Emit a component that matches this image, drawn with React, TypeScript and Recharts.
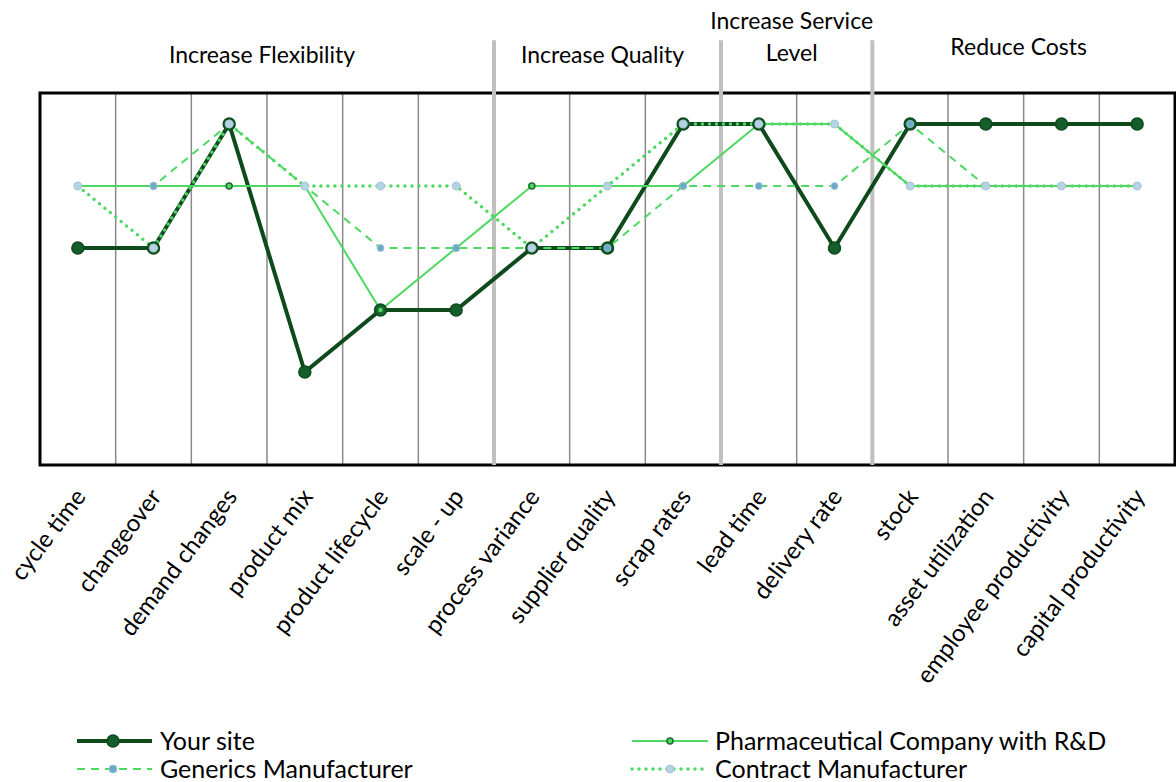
import { LineChart, Line, XAxis, YAxis, CartesianGrid, ReferenceLine, ReferenceArea } from 'recharts'

const categories = [
  'cycle time',
  'changeover',
  'demand changes',
  'product mix',
  'product lifecycle',
  'scale - up',
  'process variance',
  'supplier quality',
  'scrap rates',
  'lead time',
  'delivery rate',
  'stock',
  'asset utilization',
  'employee productivity',
  'capital productivity',
]

const yourSite = [3, 3, 5, 1, 2, 2, 3, 3, 5, 5, 3, 5, 5, 5, 5]
const pharma = [4, 4, 4, 4, 2, 3, 4, 4, 4, 5, 5, 4, 4, 4, 4]
const generics = [4, 4, 5, 4, 3, 3, 3, 3, 4, 4, 4, 5, 4, 4, 4]
const contract = [4, 3, 5, 4, 4, 4, 3, 4, 5, 5, 5, 4, 4, 4, 4]

// group headers: first and last category index of each group
const groupNames = [['Increase Flexibility'], ['Increase Quality'], ['Increase Service', 'Level'], ['Reduce Costs']]
const groupStart = [0, 6, 9, 11]
const groupEnd = [5, 8, 10, 14]

const data = categories.map((name, i) => ({
  idx: i,
  name,
  yourSite: yourSite[i],
  pharma: pharma[i],
  generics: generics[i],
  contract: contract[i],
}))

const W = 1176
const H = 782
const M = { top: 93, left: 40, right: 1, bottom: 67 }
const plotW = W - M.left - M.right
const step = plotW / categories.length
const FONT = 'Lato, "Open Sans", sans-serif'

const DARK = '#0f4a1d'
const GREEN = '#4dd862'

const AngledTick = (props: any) => {
  const { x, payload } = props
  const px = x + 9
  const py = 497
  return (
    <text
      x={px}
      y={py}
      transform={`rotate(-53, ${px}, ${py})`}
      textAnchor="end"
      fontSize={24}
      fontFamily={FONT}
      fill="#000"
    >
      {categories[payload.value]}
    </text>
  )
}

const colX = (i: number) => M.left + (i + 0.5) * step

const Overlay = () => {
  return (
    <svg width={W} height={H} style={{ position: 'absolute', left: 0, top: 0, pointerEvents: 'none' }}>
      {groupNames.map((lines, g) => {
        const cx = (colX(groupStart[g]) + colX(groupEnd[g])) / 2 - 5
        const baseY = lines.length > 1 ? 29 : g === 3 ? 55 : 63
        return (
          <text key={g} x={cx} y={baseY} textAnchor="middle" fontSize={23} fontFamily={FONT} fill="#000">
            {lines.map((l, j) => (
              <tspan key={j} x={cx} dy={j === 0 ? 0 : 32}>
                {l}
              </tspan>
            ))}
          </text>
        )
      })}
      {/* legend */}
      <g fontFamily={FONT} fontSize={25} fill="#000">
        <line x1={77} x2={152} y1={741} y2={741} stroke={DARK} strokeWidth={4} />
        <circle cx={113} cy={741} r={6} fill="#135e2b" stroke={DARK} strokeWidth={1.5} />
        <text x={160} y={750}>Your site</text>

        <line x1={77} x2={152} y1={769} y2={769} stroke={GREEN} strokeWidth={2} strokeDasharray="8 6" />
        <circle cx={113} cy={769} r={4} fill="#6aaac6" stroke="#9ec7dc" strokeWidth={1} />
        <text x={160} y={778}>Generics Manufacturer</text>

        <line x1={632} x2={708} y1={741} y2={741} stroke={GREEN} strokeWidth={2} />
        <circle cx={670} cy={741} r={3} fill={GREEN} stroke="#1b6b31" strokeWidth={1.5} />
        <text x={715} y={750}>Pharmaceutical Company with R&amp;D</text>

        <line x1={632} x2={708} y1={769} y2={769} stroke={GREEN} strokeWidth={3.5} strokeDasharray="0 7" strokeLinecap="round" />
        <circle cx={670} cy={769} r={4} fill="#b6d3e3" stroke="#a6c6d8" strokeWidth={1} />
        <text x={715} y={778}>Contract Manufacturer</text>
      </g>
    </svg>
  )
}

export default function App() {
  return (
    <div style={{ position: 'absolute', left: 0, top: 0, width: W, height: H, background: '#fff' }}>
      <LineChart width={W} height={H} data={data} margin={M}>
        <CartesianGrid
          horizontal={false}
          stroke="#8a8a8a"
          strokeWidth={1.5}
          verticalCoordinatesGenerator={({ offset }: any) =>
            categories.slice(1).map((_, i) => offset.left + ((i + 1) * offset.width) / categories.length)
          }
        />
        <XAxis
          dataKey="idx"
          type="number"
          domain={[-0.5, categories.length - 0.5]}
          ticks={categories.map((_, i) => i)}
          tick={<AngledTick />}
          axisLine={false}
          tickLine={false}
          interval={0}
          height={250}
        />
        <YAxis hide type="number" domain={[-0.5, 5.5]} />
        {groupStart.slice(1).map((s) => (
          <ReferenceLine
            key={s}
            segment={[
              { x: s - 0.5, y: -0.5 },
              { x: s - 0.5, y: 6.35 },
            ]}
            ifOverflow="visible"
            stroke="#c0c0c0"
            strokeWidth={4}
          />
        ))}
        <ReferenceArea
          x1={-0.5}
          x2={categories.length - 0.5}
          y1={-0.5}
          y2={5.5}
          fill="none"
          stroke="#000"
          strokeWidth={3}
          fillOpacity={0}
        />
        <Line
          dataKey="yourSite"
          stroke={DARK}
          strokeWidth={4}
          dot={{ r: 6, fill: '#135e2b', stroke: DARK, strokeWidth: 1.5 }}
          isAnimationActive={false}
        />
        <Line
          dataKey="pharma"
          stroke={GREEN}
          strokeWidth={2}
          dot={{ r: 3, fill: GREEN, stroke: '#1b6b31', strokeWidth: 1.5 }}
          isAnimationActive={false}
        />
        <Line
          dataKey="generics"
          stroke={GREEN}
          strokeWidth={2}
          strokeDasharray="8 6"
          dot={{ r: 3.5, fill: '#6aaac6', stroke: '#9ec7dc', strokeWidth: 1, strokeDasharray: '' }}
          isAnimationActive={false}
        />
        <Line
          dataKey="contract"
          stroke={GREEN}
          strokeWidth={3.5}
          strokeDasharray="0 7"
          strokeLinecap="round"
          dot={{ r: 4, fill: '#b6d3e3', stroke: '#a6c6d8', strokeWidth: 1, strokeDasharray: '' }}
          isAnimationActive={false}
        />
      </LineChart>
      <Overlay />
    </div>
  )
}
